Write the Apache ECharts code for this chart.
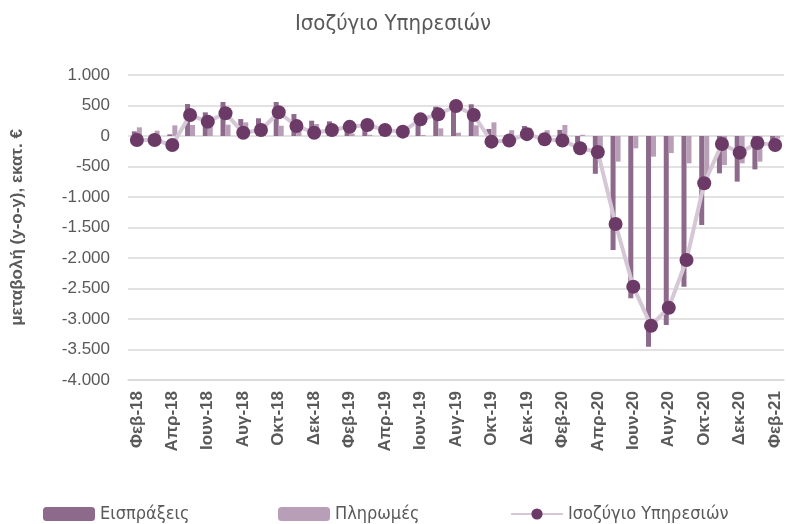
<!DOCTYPE html>
<html>
<head>
<meta charset="utf-8">
<script src="https://cdn.jsdelivr.net/npm/echarts@6/dist/echarts.min.js"></script>
<style>
  html, body { margin: 0; padding: 0; background: #fff; }
  #main { width: 786px; height: 524px; }
</style>
</head>
<body>
<div id="main"></div>
<script>
var chartDom = document.getElementById('main');
var myChart = echarts.init(chartDom);

// months Feb-18 .. Feb-21
var months = ['Φεβ-18','Μαρ-18','Απρ-18','Μαϊ-18','Ιουν-18','Ιουλ-18','Αυγ-18','Σεπ-18','Οκτ-18','Νοε-18','Δεκ-18','Ιαν-19',
  'Φεβ-19','Μαρ-19','Απρ-19','Μαϊ-19','Ιουν-19','Ιουλ-19','Αυγ-19','Σεπ-19','Οκτ-19','Νοε-19','Δεκ-19','Ιαν-20',
  'Φεβ-20','Μαρ-20','Απρ-20','Μαϊ-20','Ιουν-20','Ιουλ-20','Αυγ-20','Σεπ-20','Οκτ-20','Νοε-20','Δεκ-20','Ιαν-21','Φεβ-21'];

var receipts = [76, 20, 27, 524, 388, 557, 278, 290, 557, 360, 251, 240,
  190, 200, 110, 60, 290, 480, 546, 520, 115, 15, 164, 40,
  100, -180, -620, -1869, -2661, -3454, -3098, -2470, -1459, -612, -748, -547, -190];

var payments = [142, 87, 175, 180, 153, 185, 224, 192, 168, 196, 197, 142,
  40, 20, 12, -10, 17, 125, 54, 175, 224, 95, 134, 95,
  180, 20, -360, -420, -202, -339, -280, -448, -684, -475, -448, -420, -40];

var balance = [-66, -66, -148, 344, 235, 372, 54, 98, 389, 164, 54, 98,
  150, 180, 98, 71, 273, 355, 492, 344, -93, -75, 30, -55,
  -75, -200, -262, -1443, -2470, -3110, -2815, -2033, -775, -130, -273, -115, -148];

var gray = '#595959';
var narrow = '"DejaVu Sans Condensed", "Liberation Sans Narrow", sans-serif';
var sans = '"Liberation Sans", Arial, sans-serif';

function fmt(v) {
  var s = Math.abs(v).toString().replace(/\B(?=(\d{3})+(?!\d))/g, '.');
  return (v < 0 ? '-' : '') + s;
}

var legendText = { fontFamily: narrow, fontSize: 18, color: gray };

var option = {
  animation: false,
  title: {
    text: 'Ισοζύγιο Υπηρεσιών',
    left: 'center',
    top: 8,
    textStyle: { fontFamily: narrow, fontSize: 22, fontWeight: 'normal', color: gray }
  },
  legend: [
    { data: ['Εισπράξεις'], left: 38, top: 500, itemWidth: 52, itemHeight: 14, textStyle: legendText },
    { data: ['Πληρωμές'], left: 273, top: 500, itemWidth: 52, itemHeight: 14, textStyle: legendText },
    { data: ['Ισοζύγιο Υπηρεσιών'], left: 505, top: 500, itemWidth: 52, itemHeight: 14, textStyle: legendText }
  ],
  grid: { left: 128, right: 2, top: 75, bottom: 144 },
  xAxis: [
    {
      type: 'category',
      data: months,
      axisLine: { show: false },
      axisTick: { show: false },
      axisLabel: {
        interval: 1, rotate: 90, margin: 11,
        fontFamily: sans, fontSize: 17, fontWeight: 'bold', color: gray
      }
    },
    {
      type: 'category',
      data: months,
      position: 'bottom',
      axisLine: { onZero: true, lineStyle: { color: '#d9d9d9', width: 1.5 } },
      axisTick: { interval: 1, length: 5, lineStyle: { color: '#d9d9d9', width: 1.5 } },
      axisLabel: { show: false }
    }
  ],
  yAxis: {
    type: 'value',
    min: -4000, max: 1000, interval: 500,
    name: 'μεταβολή (y-o-y), εκατ. €',
    nameLocation: 'middle',
    nameGap: 102,
    nameTextStyle: { fontFamily: sans, fontSize: 17, fontWeight: 'bold', color: gray },
    axisLabel: {
      margin: 18,
      fontFamily: sans, fontSize: 17, color: gray,
      formatter: fmt
    },
    splitLine: { lineStyle: { color: '#d9d9d9', width: 1.5 } }
  },
  series: [
    {
      name: 'Εισπράξεις',
      type: 'bar',
      data: receipts,
      barWidth: 5,
      barGap: '0%',
      itemStyle: { color: '#8d6a8c' }
    },
    {
      name: 'Πληρωμές',
      type: 'bar',
      data: payments,
      barWidth: 5,
      itemStyle: { color: '#b89fb7' }
    },
    {
      name: 'Ισοζύγιο Υπηρεσιών',
      type: 'line',
      data: balance,
      symbol: 'circle',
      symbolSize: 14,
      showAllSymbol: true,
      lineStyle: { color: '#d6c7d6', width: 4 },
      itemStyle: { color: '#6b3a66' },
      z: 5
    }
  ]
};

myChart.setOption(option);
</script>
</body>
</html>
